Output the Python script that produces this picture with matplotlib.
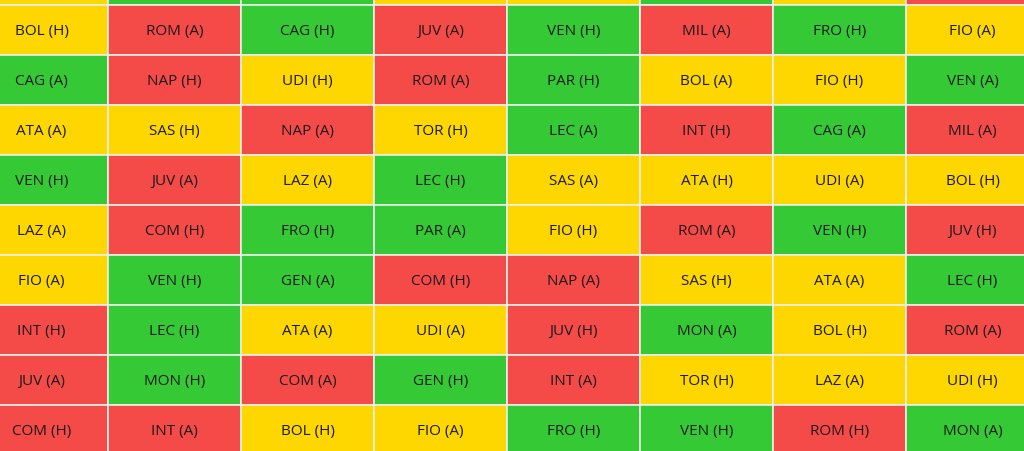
import matplotlib.pyplot as plt
from matplotlib.patches import Rectangle

# fixture grid, one list per row (top sliver row has no visible text)
labels = [
    ["", "", "", "", "", "", "", ""],
    ["BOL (H)", "ROM (A)", "CAG (H)", "JUV (A)", "VEN (H)", "MIL (A)", "FRO (H)", "FIO (A)"],
    ["CAG (A)", "NAP (H)", "UDI (H)", "ROM (A)", "PAR (H)", "BOL (A)", "FIO (H)", "VEN (A)"],
    ["ATA (A)", "SAS (H)", "NAP (A)", "TOR (H)", "LEC (A)", "INT (H)", "CAG (A)", "MIL (A)"],
    ["VEN (H)", "JUV (A)", "LAZ (A)", "LEC (H)", "SAS (A)", "ATA (H)", "UDI (A)", "BOL (H)"],
    ["LAZ (A)", "COM (H)", "FRO (H)", "PAR (A)", "FIO (H)", "ROM (A)", "VEN (H)", "JUV (H)"],
    ["FIO (A)", "VEN (H)", "GEN (A)", "COM (H)", "NAP (A)", "SAS (H)", "ATA (A)", "LEC (H)"],
    ["INT (H)", "LEC (H)", "ATA (A)", "UDI (A)", "JUV (H)", "MON (A)", "BOL (H)", "ROM (A)"],
    ["JUV (A)", "MON (H)", "COM (A)", "GEN (H)", "INT (A)", "TOR (H)", "LAZ (A)", "UDI (H)"],
    ["COM (H)", "INT (A)", "BOL (H)", "FIO (A)", "FRO (H)", "VEN (H)", "ROM (H)", "MON (A)"],
]
difficulty = [
    "YGGYYGYR",
    "YRGRGRGY",
    "GRYRGYYG",
    "YYRYGRGR",
    "GRYGYYYY",
    "YRGGYRGR",
    "YGGRRYYG",
    "RGYYRGYR",
    "RGRGRYYY",
    "RRYYGGRG",
]
palette = {"R": "#f44a48", "Y": "#fed700", "G": "#35c935"}

fig = plt.figure(figsize=(10.24, 4.52), dpi=100)
ax = fig.add_axes([0, 0, 1, 1])
ax.set_xlim(0, 1024)
ax.set_ylim(452, 0)
ax.axis("off")

cw, rh = 133, 50
x0, y0 = -25, -44
for r, row in enumerate(difficulty):
    for c, code in enumerate(row):
        x = x0 + c * cw
        y = y0 + r * rh
        ax.add_patch(Rectangle((x, y), cw, rh, facecolor=palette[code],
                               edgecolor="#e8f0e8", linewidth=1.2))
        txt = labels[r][c]
        if txt:
            ax.text(x + cw / 2, y + rh / 2 + 1, txt, ha="center", va="center",
                    fontsize=11, color="#1a1a1a", family="Open Sans")

fig.savefig("out.png", dpi=100)
